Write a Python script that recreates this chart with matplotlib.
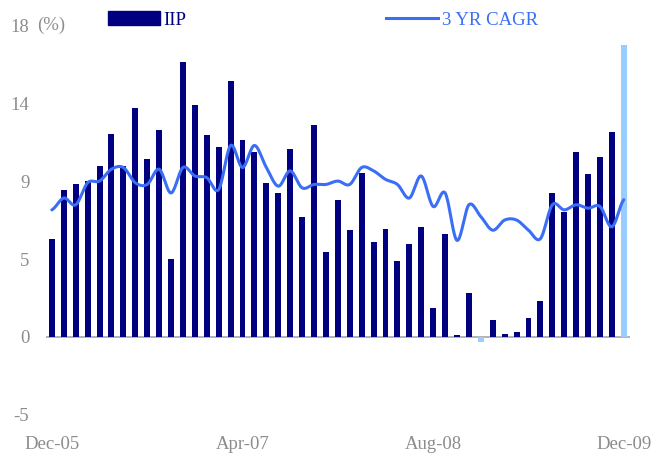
import numpy as np
import matplotlib
matplotlib.use("Agg")
import matplotlib.pyplot as plt
from matplotlib.patches import Patch
from matplotlib.lines import Line2D

plt.rcParams['font.family'] = ['Liberation Serif', 'DejaVu Serif']

# monthly, Dec-05 .. Dec-09
months = ['Dec-05', 'Jan-06', 'Feb-06', 'Mar-06', 'Apr-06', 'May-06', 'Jun-06',
          'Jul-06', 'Aug-06', 'Sep-06', 'Oct-06', 'Nov-06', 'Dec-06', 'Jan-07',
          'Feb-07', 'Mar-07', 'Apr-07', 'May-07', 'Jun-07', 'Jul-07', 'Aug-07',
          'Sep-07', 'Oct-07', 'Nov-07', 'Dec-07', 'Jan-08', 'Feb-08', 'Mar-08',
          'Apr-08', 'May-08', 'Jun-08', 'Jul-08', 'Aug-08', 'Sep-08', 'Oct-08',
          'Nov-08', 'Dec-08', 'Jan-09', 'Feb-09', 'Mar-09', 'Apr-09', 'May-09',
          'Jun-09', 'Jul-09', 'Aug-09', 'Sep-09', 'Oct-09', 'Nov-09', 'Dec-09']

iip = [5.8, 8.7, 9.0, 9.2, 10.1, 12.0, 10.1, 13.5, 10.5, 12.2, 4.6, 16.2, 13.7,
       11.9, 11.2, 15.1, 11.6, 10.9, 9.1, 8.5, 11.1, 7.1, 12.5, 5.0, 8.1, 6.3,
       9.7, 5.6, 6.4, 4.5, 5.5, 6.5, 1.7, 6.1, 0.1, 2.6, -0.3, 1.0, 0.2, 0.3,
       1.1, 2.1, 8.5, 7.4, 10.9, 9.6, 10.6, 12.1, 17.2]

cagr = [7.5, 8.2, 7.8, 9.1, 9.2, 9.9, 10.0, 9.1, 9.0, 9.9, 8.5, 10.0, 9.5,
        9.4, 8.7, 11.3, 10.0, 11.3, 10.0, 8.9, 9.8, 8.8, 9.0, 9.0, 9.2, 9.0,
        10.0, 9.8, 9.3, 9.0, 8.2, 9.5, 7.7, 8.5, 5.7, 7.8, 7.1, 6.3, 6.9, 6.9,
        6.3, 5.8, 7.8, 7.5, 7.8, 7.6, 7.7, 6.5, 8.1]

tick_vals = [-4.6, 0, 4.6, 9.2, 13.8, 18.4]
tick_labels = ['-5', '0', '5', '9', '14', '18']

navy = '#000080'
light = '#99CCFF'
blue = '#3A6EF5'
grey = '#8C8C8C'

x = np.arange(len(months))
colors = [navy] * len(iip)
colors[-1] = light
for i, v in enumerate(iip):
    if v < 0:
        colors[i] = light


def smooth(xs, ys, n=20):
    # catmull-rom style smoothing like excel's smoothed line
    xs = np.asarray(xs, float)
    ys = np.asarray(ys, float)
    px = np.concatenate([[xs[0]], xs, [xs[-1]]])
    py = np.concatenate([[ys[0]], ys, [ys[-1]]])
    outx, outy = [], []
    t = np.linspace(0, 1, n, endpoint=False)
    for i in range(1, len(px) - 2):
        p0, p1, p2, p3 = py[i - 1], py[i], py[i + 1], py[i + 2]
        yy = 0.5 * ((2 * p1) + (-p0 + p2) * t + (2 * p0 - 5 * p1 + 4 * p2 - p3) * t ** 2
                    + (-p0 + 3 * p1 - 3 * p2 + p3) * t ** 3)
        outx.extend(px[i] + (px[i + 1] - px[i]) * t)
        outy.extend(yy)
    outx.append(xs[-1])
    outy.append(ys[-1])
    return np.array(outx), np.array(outy)


fig = plt.figure(figsize=(6.56, 4.57), dpi=100)
ax = fig.add_axes([0.070, 0.092, 0.890, 0.853])

ax.bar(x, iip, width=0.5, color=colors, zorder=2)
sx, sy = smooth(x, cagr)
ax.plot(sx, sy, color=blue, lw=2.2, zorder=3, solid_capstyle='round')
ax.axhline(0, color='#A6A6A6', lw=1.2, zorder=1)

ax.set_xlim(-0.5, len(months) - 0.5)
ax.set_ylim(-4.6, 18.4)
ax.set_yticks(tick_vals)
ax.set_yticklabels(tick_labels)
xt = [0, 16, 32, 48]
ax.set_xticks(xt)
ax.set_xticklabels([months[i] for i in xt])
ax.tick_params(axis='y', length=0, pad=12, labelsize=13.5, labelcolor=grey)
ax.tick_params(axis='x', length=0, pad=15, labelsize=13.5, labelcolor=grey)
for s in ax.spines.values():
    s.set_visible(False)

fig.text(37 / 656, 1 - 25 / 457, '(%)', fontsize=13.5, color=grey, va='center', ha='left')

handles = [Patch(color=navy), Line2D([0], [0], color=blue, lw=2.2)]
leg = ax.legend(handles, ['IIP', '3 YR CAGR'], ncol=2, frameon=False,
                loc='center left', bbox_to_anchor=(100 / 656, 1 - 20 / 457),
                bbox_transform=fig.transFigure, fontsize=13.5,
                handlelength=2.8, handleheight=0.7, handletextpad=0.2,
                columnspacing=10.6, borderaxespad=0)
for t, c in zip(leg.get_texts(), [navy, blue]):
    t.set_color(c)

fig.savefig('out.png', dpi=100)
